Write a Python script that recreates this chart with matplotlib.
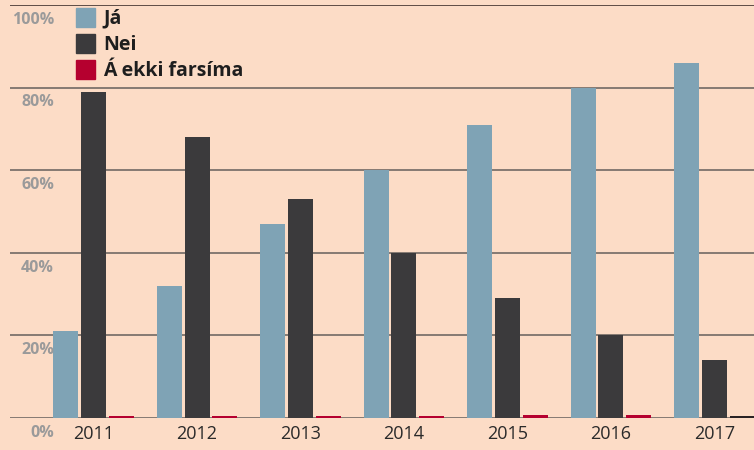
import matplotlib
matplotlib.use("Agg")
import matplotlib.pyplot as plt
import numpy as np

years = ["2011", "2012", "2013", "2014", "2015", "2016", "2017"]
ja = [21, 32, 47, 60, 71, 80, 86]
nei = [79, 68, 53, 40, 29, 20, 14]
veit_ekki = [0.5, 0.5, 0.5, 0.5, 0.8, 0.7, 0.5]
series_labels = ["Já", "Nei", "Á ekki farsíma"]
y_ticks = [0, 20, 40, 60, 80, 100]

BG = "#fcdcc6"
C_JA = "#7fa3b5"
C_NEI = "#3b3a3c"
C_RED = "#b5002f"
GRID = "#857a72"
TICK_GREY = "#9a9a9a"

plt.rcParams["font.family"] = ["Open Sans", "DejaVu Sans"]

fig = plt.figure(figsize=(7.54, 4.5), dpi=100, facecolor=BG)
ax = fig.add_axes([10 / 754, 32 / 450, 744 / 754, 413 / 450])
ax.set_facecolor(BG)

x = np.arange(len(years))
w = 0.2415
off = 0.27
red_colors = [C_RED] * (len(years) - 1) + ["#2a2224"]

ax.bar(x - off, ja, width=w, color=C_JA, zorder=3)
ax.bar(x, nei, width=w, color=C_NEI, zorder=3)
ax.bar(x + off, veit_ekki, width=w, color=red_colors, zorder=3)

for t in y_ticks:
    col = "#5e4d46" if t == 100 else GRID
    ax.axhline(t, color=col, lw=1.4, zorder=1)
    ax.text(0.059, t - 3.6, f"{t}%", transform=ax.get_yaxis_transform(),
            ha="right", va="center", fontsize=11.5, fontweight="bold",
            color=TICK_GREY)

for xi, yr in zip(x, years):
    ax.text(xi, -3.8, yr, ha="center", va="center", fontsize=13,
            color="#2a2a2a", clip_on=False)

ax.set_xlim(-0.807, 6.382)
ax.set_ylim(0, 100)
ax.axis("off")

# legend
for i, (lab, col) in enumerate(zip(series_labels, [C_JA, C_NEI, C_RED])):
    yy = 17.5 + i * 26
    fig.patches.append(plt.Rectangle((76 / 754, 1 - (yy + 9.5) / 450), 19 / 754, 19 / 450,
                                     transform=fig.transFigure, color=col, zorder=5))
    fig.text(103 / 754, 1 - (yy + 1) / 450, lab, ha="left", va="center",
             fontsize=14, fontweight="bold", color="#1e1e1e")

fig.savefig("out.png", dpi=100, facecolor=BG)
